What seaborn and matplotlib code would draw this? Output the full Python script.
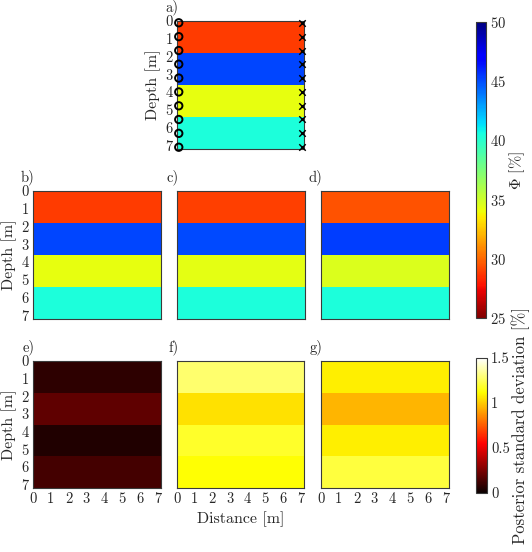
import numpy as np
import matplotlib
matplotlib.use("Agg")
import matplotlib.pyplot as plt
import seaborn as sns

# ── Data ────────────────────────────────────────────────
CELL = 0.9                      # model cell size [m]
N_CELLS = 8                     # 8 x 8 cells -> 7.2 m x 7.2 m
CELLS_PER_LAYER = 2             # 4 horizontal layers of 1.8 m

# porosity per layer (top -> bottom) [%]
phi_true = [28.9, 45.2, 34.2, 40.4]
phi_b = [28.9, 45.2, 34.2, 40.4]
phi_c = [29.0, 45.1, 34.3, 40.4]
phi_d = [29.4, 45.4, 34.6, 40.4]

# posterior standard deviation per layer [%]
std_e = [0.08, 0.19, 0.05, 0.13]
std_f = [1.28, 1.05, 1.18, 1.12]
std_g = [1.08, 0.95, 1.08, 1.21]

# source / receiver positions in panel a)
src_x = [0.1] * 10
rec_x = [7.1] * 10
sr_depth = [0.1, 0.88, 1.66, 2.43, 3.21, 3.99, 4.77, 5.54, 6.32, 7.1]

tick_m = [0, 1, 2, 3, 4, 5, 6, 7]

# ── Style ───────────────────────────────────────────────
sns.set_theme(style="ticks")
plt.rcParams["font.family"] = ["cmr10", "DejaVu Serif"]
plt.rcParams["mathtext.fontset"] = "cm"
plt.rcParams["axes.formatter.use_mathtext"] = True
plt.rcParams["axes.unicode_minus"] = False
TXT = "#262626"
W, H = 532, 552


def frac(l, t, r, b):
    return [l / W, (H - b) / H, (r - l) / W, (b - t) / H]


def layer_grid(vals):
    col = np.repeat(vals, CELLS_PER_LAYER)
    return np.tile(col[:, None], (1, N_CELLS))


def panel(fig, box, vals, cmap, vmin, vmax, tag, xlab=False, ylab=False):
    ax = fig.add_axes(frac(*box))
    sns.heatmap(layer_grid(vals), ax=ax, cmap=cmap, vmin=vmin, vmax=vmax,
                cbar=False, xticklabels=False, yticklabels=False)
    for s in ax.spines.values():
        s.set_visible(True)
        s.set_color("#3a3a3a")
        s.set_linewidth(0.8)
    pos = [t / CELL for t in tick_m]
    ax.set_xticks(pos)
    ax.set_yticks(pos)
    ax.set_xticklabels([str(t) for t in tick_m] if xlab else [])
    ax.set_yticklabels([str(t) for t in tick_m] if ylab else [], rotation=0)
    ax.tick_params(direction="in", length=2.5, width=0.6, top=True, right=True,
                   labelsize=10.5, colors="#3a3a3a", labelcolor=TXT, pad=3)
    ax.set_xlim(0, N_CELLS)
    ax.set_ylim(N_CELLS, 0)
    ax.text(0.01, 1.045, tag, transform=ax.transAxes, ha="right", va="bottom",
            fontsize=10.5, color=TXT)
    if ylab:
        ax.set_ylabel("Depth [m]", fontsize=11.5, color=TXT, labelpad=3)
    return ax


fig = plt.figure(figsize=(W / 100, H / 100), dpi=100)

ax_a = panel(fig, (177, 21, 304, 149), phi_true, "jet_r", 25, 50, "a)", ylab=True)
ax_a.scatter([x / CELL for x in src_x], [z / CELL for z in sr_depth], s=28,
             facecolors="none", edgecolors="black", linewidths=1.4, zorder=5,
             clip_on=False)
ax_a.scatter([x / CELL for x in rec_x], [z / CELL for z in sr_depth], s=22,
             marker="x", color="black", linewidths=1.0, zorder=5, clip_on=False)

panel(fig, (33, 191, 161, 319), phi_b, "jet_r", 25, 50, "b)", ylab=True)
panel(fig, (177, 191, 305, 319), phi_c, "jet_r", 25, 50, "c)")
panel(fig, (321, 191, 449, 319), phi_d, "jet_r", 25, 50, "d)")

panel(fig, (33, 361, 161, 488), std_e, "hot", 0, 1.5, "e)", xlab=True, ylab=True)
ax_f = panel(fig, (177, 361, 304, 488), std_f, "hot", 0, 1.5, "f)", xlab=True)
panel(fig, (321, 361, 449, 488), std_g, "hot", 0, 1.5, "g)", xlab=True)
ax_f.set_xlabel("Distance [m]", fontsize=11.5, color=TXT, labelpad=4)

# ── Colorbars ───────────────────────────────────────────
cax1 = fig.add_axes(frac(476, 22, 486, 318))
cb1 = fig.colorbar(plt.cm.ScalarMappable(norm=plt.Normalize(25, 50), cmap="jet_r"),
                   cax=cax1)
cb1.set_ticks([25, 30, 35, 40, 45, 50])
cb1.set_label(r"$\Phi$ [%]", fontsize=11.5, color=TXT, labelpad=1)

cax2 = fig.add_axes(frac(476, 358, 487, 493))
cb2 = fig.colorbar(plt.cm.ScalarMappable(norm=plt.Normalize(0, 1.5), cmap="hot"),
                   cax=cax2)
cb2.set_ticks([0, 0.5, 1, 1.5])
cb2.set_ticklabels(["0", "0.5", "1", "1.5"])
cb2.set_label("Posterior standard deviation [%]", fontsize=12, color=TXT,
              labelpad=1)

for cb in (cb1, cb2):
    cb.outline.set_edgecolor("#3a3a3a")
    cb.outline.set_linewidth(0.8)
    cb.ax.tick_params(direction="in", length=2.5, width=0.6, labelsize=10.5,
                      colors="#3a3a3a", labelcolor=TXT, pad=3)

fig.savefig("out.png", dpi=100)
